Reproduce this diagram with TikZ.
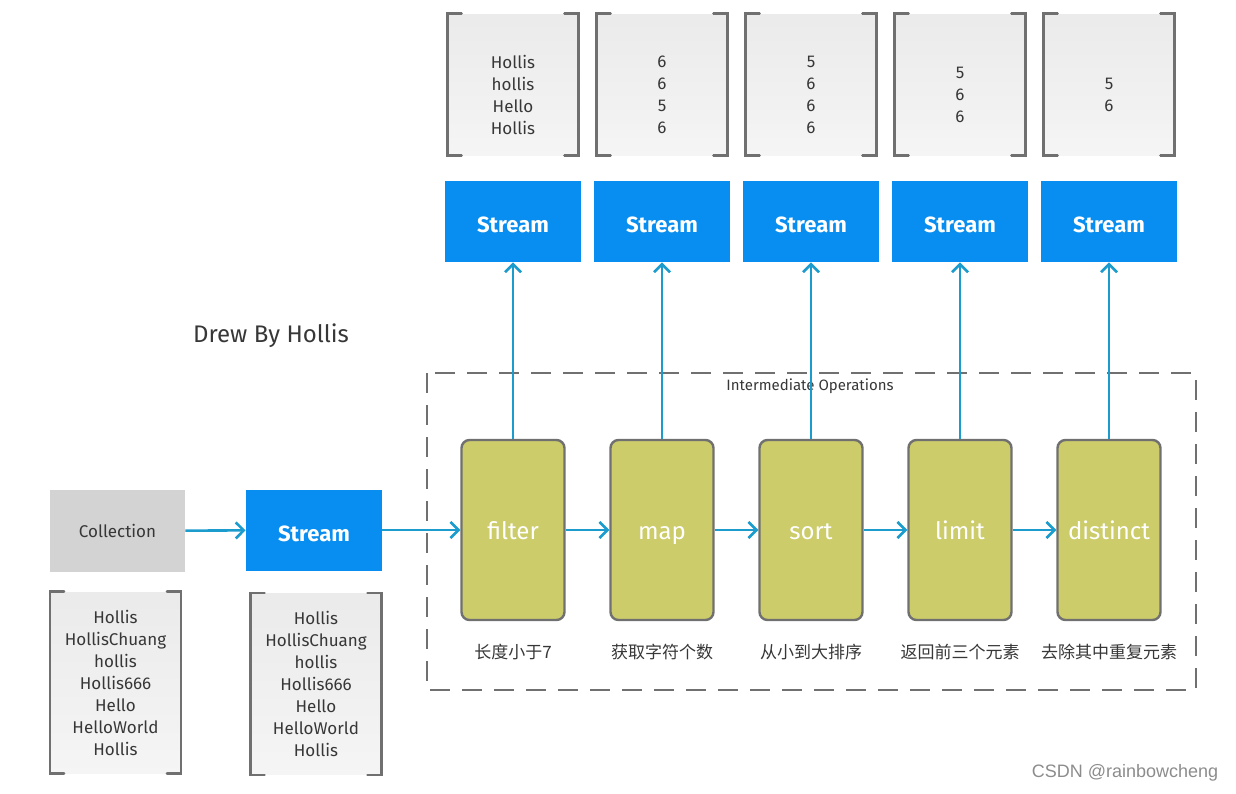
\documentclass[tikz,border=0pt]{standalone}
\usepackage{fontspec}
\setmainfont{Fira Sans}
\newfontfamily\cjk{Noto Sans CJK SC}
\newfontfamily\marksans{Liberation Sans}
\usetikzlibrary{arrows.meta}

\definecolor{streamblue}{RGB}{8,142,240}
\definecolor{opgreen}{RGB}{204,204,106}
\definecolor{edgegray}{RGB}{112,112,112}
\definecolor{flowcyan}{RGB}{28,155,205}
\definecolor{colgray}{RGB}{211,211,211}
\definecolor{inkgray}{RGB}{55,55,55}

\tikzset{
  flow/.style={draw=flowcyan, line width=1.3pt, -{Straight Barb[length=4pt, width=8pt]}},
  streambox/.style={fill=streamblue, text=white, minimum width=68pt, minimum height=40.5pt,
    text height=2.4ex, text depth=.3ex, font=\fontsize{11}{13}\selectfont\bfseries},
  collbox/.style={fill=colgray, text=inkgray, minimum width=67.5pt, minimum height=41pt,
    font=\fontsize{8.5}{10}\selectfont},
  opbox/.style={fill=opgreen, draw=edgegray, line width=1.2pt, rounded corners=4pt,
    minimum width=51.5pt, minimum height=90pt, text height=2.3ex, text depth=.5ex,
    text=white, font=\fontsize{12}{14}\selectfont},
  listbox/.style={top color=black!8, bottom color=black!4, text=inkgray, align=center,
    minimum width=65pt, font=\fontsize{8.5}{11}\selectfont},
  listtext/.style={text=inkgray, align=center, font=\fontsize{8.5}{11}\selectfont},
  bracket/.style={draw=edgegray, line width=1.2pt, line cap=round},
  oplabel/.style={text=inkgray, font=\cjk\fontsize{8.5}{10}\selectfont},
  opsframe/.style={draw=edgegray, line width=1pt, dash pattern=on 10pt off 6pt}
}

% bracket-like sides of a list box
\newcommand\listsides[1]{%
  \draw[bracket] ([xshift=7pt]#1.north west) -- (#1.north west) -- (#1.south west) -- ++(7pt,0);
  \draw[bracket] ([xshift=-7pt]#1.north east) -- (#1.north east) -- (#1.south east) -- ++(-7pt,0);
}

\begin{document}
\begin{tikzpicture}[x=0.5pt, y=-0.5pt]
 \useasboundingbox (0,0) rectangle (1236,793);

 % intermediate operations frame
 \draw[opsframe] (427,373) rectangle (1196,690);
 \node (opstitle) at (810,386) [text=inkgray, font=\fontsize{7.5}{9}\selectfont] {Intermediate Operations};

 \node (drew) at (271,336) [text=inkgray, font=\fontsize{12}{14}\selectfont] {Drew By Hollis};

 % source side
 \node (coll) at (117.5,531) [collbox] {Collection};
 \node (src) at (314,530) [streambox] {Stream};
 \node (collist) at (115.5,682.5) [listbox, minimum height=90.5pt]
   {Hollis\\HollisChuang\\hollis\\Hollis666\\Hello\\HelloWorld\\Hollis};
 \node (srclist) at (316,684) [listbox, minimum height=90.5pt]
   {Hollis\\HollisChuang\\hollis\\Hollis666\\Hello\\HelloWorld\\Hollis};
 \listsides{collist}
 \listsides{srclist}

 % operations, result streams and their contents
 \foreach \op/\lbl/\vals [count=\i from 0] in {
   filter/长度小于7/{Hollis\\hollis\\Hello\\Hollis},
   map/获取字符个数/{6\\6\\5\\6},
   sort/从小到大排序/{5\\6\\6\\6},
   limit/返回前三个元素/{5\\6\\6},
   distinct/去除其中重复元素/{5\\6}} {
   \pgfmathsetmacro\cx{513+149*\i}
   \node (op\i) at (\cx,530) [opbox] {\op};
   \node (lbl\i) at (\cx,652) [oplabel] {\lbl};
   \node (st\i) at (\cx,221.5) [streambox] {Stream};
   \node (res\i) at (\cx,84.5) [listbox, minimum height=70.5pt] {};
   \node (val\i) at (\cx,95) [listtext] {\vals};
   \listsides{res\i}
   \draw[flow] (op\i) -- (st\i);
 }

 \draw[flow] (coll) -- (src);
 \draw[flow] (src) -- (op0);
 \foreach \i [remember=\i as \j (initially 0)] in {1,...,4}
   \draw[flow] (op\j) -- (op\i);

 \node (mark) at (1125,773) [text=black!45, font=\marksans\fontsize{9}{11}\selectfont] {CSDN @rainbowcheng};
\end{tikzpicture}
\end{document}
